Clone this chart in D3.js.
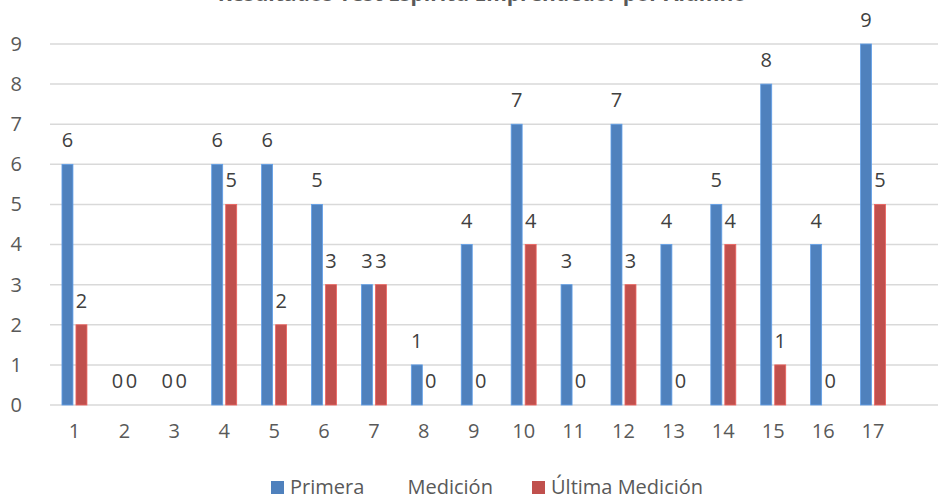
<!DOCTYPE html>
<html>
  <head>
    <meta charset="utf-8" />
    <style>
      body { margin: 0; background: #fff; }
      text { font-family: "Open Sans", sans-serif; }
      .grid line { stroke: #d9d9d9; stroke-width: 1.5px; }
      .tick text { fill: #595959; font-size: 20px; }
      .label { fill: #404040; font-size: 20px; }
    </style>
  </head>
  <body>
    <svg width="938" height="498"></svg>
    <script src="https://d3js.org/d3.v7.min.js"></script>
    <script>
      var categories = ["1","2","3","4","5","6","7","8","9","10","11","12","13","14","15","16","17"];
      var primera = [6, 0, 0, 6, 6, 5, 3, 1, 4, 7, 3, 7, 4, 5, 8, 4, 9];
      var ultima = [2, 0, 0, 5, 2, 3, 3, 0, 0, 4, 0, 3, 0, 4, 1, 0, 5];
      var seriesNames = ["Primera Medición", "Última Medición"];
      var colors = ["#4f81bd", "#c0504d"];
      var yTicks = [0, 1, 2, 3, 4, 5, 6, 7, 8, 9];
      var title = "Resultados Test Espíritu Emprendedor por Alumno";

      var svg = d3.select("svg");

      var x = d3.scaleBand().domain(categories).range([49.5, 898]);
      var y = d3.scaleLinear().domain([0, 9]).range([405, 44]);

      // gridlines
      svg.append("g").attr("class", "grid")
        .selectAll("line").data(yTicks).enter().append("line")
        .attr("x1", 50).attr("x2", 938)
        .attr("y1", function (d) { return y(d); })
        .attr("y2", function (d) { return y(d); });

      // y axis labels
      var yAxis = svg.append("g").attr("transform", "translate(30,0)")
        .call(d3.axisLeft(y).tickValues(yTicks).tickSize(0).tickPadding(8));
      yAxis.select(".domain").remove();

      // x axis labels
      var xAxis = svg.append("g").attr("transform", "translate(0,424)")
        .call(d3.axisBottom(x).tickSize(0).tickPadding(0));
      xAxis.select(".domain").remove();

      var series = [primera, ultima];
      var offsets = [-12.5, 1.5];
      var bw = 11;

      series.forEach(function (vals, s) {
        var g = svg.append("g");
        g.selectAll("rect").data(vals).enter().append("rect")
          .attr("x", function (d, i) { return x(categories[i]) + x.bandwidth() / 2 + offsets[s]; })
          .attr("y", function (d) { return y(d); })
          .attr("width", bw)
          .attr("height", function (d) { return y(0) - y(d); })
          .attr("fill", colors[s])
          .attr("stroke", d3.color(colors[s]).brighter(0.6))
          .attr("stroke-width", 0.8);
        g.selectAll("text").data(vals).enter().append("text")
          .attr("class", "label")
          .attr("text-anchor", "middle")
          .attr("x", function (d, i) { return x(categories[i]) + x.bandwidth() / 2 + offsets[s] + bw / 2; })
          .attr("y", function (d) { return y(d) - 17; })
          .text(function (d) { return d; });
      });

      // title (cut off at top, as in the source)
      svg.append("text")
        .attr("x", 482).attr("y", 0.5)
        .attr("text-anchor", "middle")
        .attr("fill", "#595959")
        .style("font-size", "21px").style("font-weight", "bold")
        .text(title);

      // legend
      var legendX = [271, 532];
      var lg = svg.append("g");
      seriesNames.forEach(function (name, i) {
        lg.append("rect")
          .attr("x", legendX[i]).attr("y", 481)
          .attr("width", 13).attr("height", 13)
          .attr("fill", colors[i]);
        lg.append("text")
          .attr("x", legendX[i] + 19).attr("y", 494)
          .attr("fill", "#595959")
          .style("font-size", "20px")
          .style("word-spacing", i === 0 ? "38px" : "0px")
          .text(name);
      });
    </script>
  </body>
</html>
